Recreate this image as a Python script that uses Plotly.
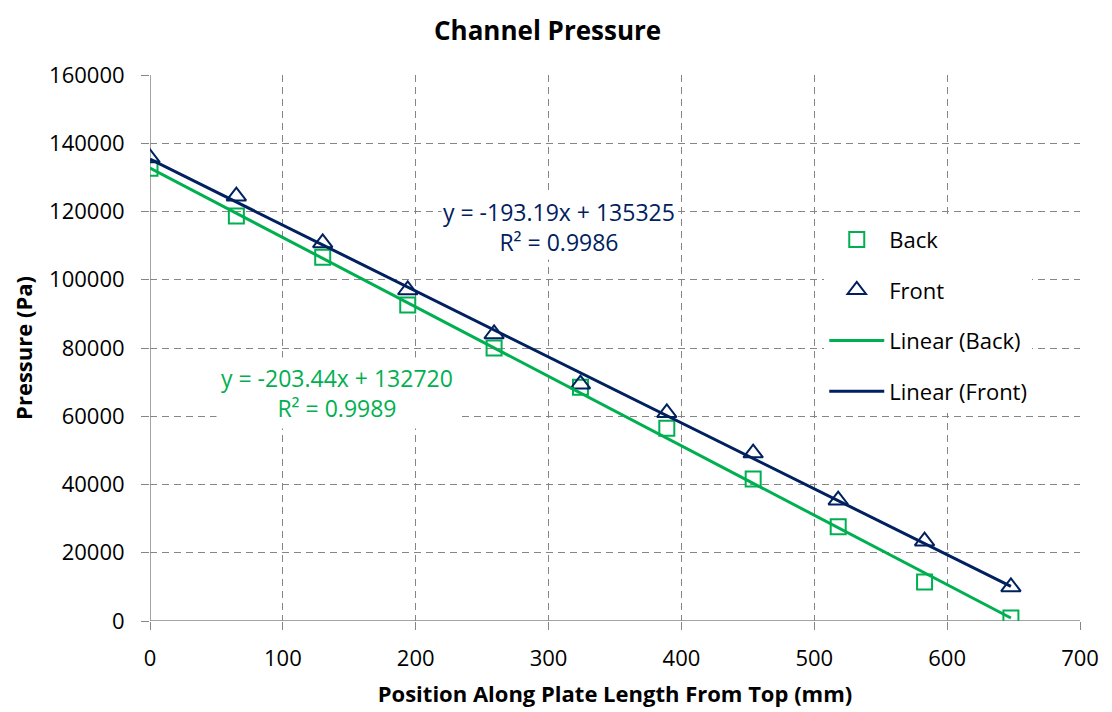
import plotly.graph_objects as go

positions = [0, 65, 130, 194, 259, 324, 389, 454, 518, 583, 648]
back_pressure = [132700, 118700, 106600, 92600, 80000, 68500, 56500, 41600, 27600, 11400, 900]
front_pressure = [135700, 124500, 110800, 97000, 84100, 69400, 61000, 49200, 35400, 23400, 10000]

back_fit = [-203.44, 132720]
front_fit = [-193.19, 135325]
fit_range = [0, 648]

GREEN = "#00B050"
NAVY = "#002060"
GRID = "#868686"
FONT = "'Open Sans', sans-serif"

fig = go.Figure()
fig.add_trace(go.Scatter(x=positions, y=back_pressure, mode="markers", name="Back",
                         legendgroup="a",
                         marker=dict(symbol="square-open", size=15, color=GREEN, line=dict(width=2))))
fig.add_trace(go.Scatter(x=positions, y=front_pressure, mode="markers", name="Front",
                         legendgroup="b",
                         marker=dict(symbol="triangle-up-open", size=17, color=NAVY, line=dict(width=2))))
fig.add_trace(go.Scatter(x=fit_range, y=[back_fit[0] * v + back_fit[1] for v in fit_range],
                         mode="lines", name="Linear (Back)", legendgroup="c",
                         line=dict(color=GREEN, width=3)))
fig.add_trace(go.Scatter(x=fit_range, y=[front_fit[0] * v + front_fit[1] for v in fit_range],
                         mode="lines", name="Linear (Front)", legendgroup="d",
                         line=dict(color=NAVY, width=3)))
# invisible helper trace so the overlay axis (cross tick marks) is drawn
fig.add_trace(go.Scatter(x=fit_range, y=[back_fit[1], back_fit[1]], yaxis="y2", mode="lines",
                         line=dict(width=0), opacity=0, showlegend=False, hoverinfo="skip"))

fig.add_annotation(x=308, y=115500, xref="x", yref="y",
                   text="y = -193.19x + 135325<br>R² = 0.9986", showarrow=False,
                   font=dict(size=23, color=NAVY, family=FONT), bgcolor="white", align="center")
fig.add_annotation(x=141, y=66700, xref="x", yref="y",
                   text="y = -203.44x + 132720<br>R² = 0.9989", showarrow=False,
                   font=dict(size=23, color=GREEN, family=FONT), bgcolor="white", align="center",
                   borderpad=4)
# chart title
fig.add_annotation(x=0.427, y=1.0, yshift=64, xref="paper", yref="paper",
                   xanchor="center", yanchor="top", borderpad=0,
                   text="<b>Channel Pressure</b>", showarrow=False,
                   font=dict(size=26, color="black", family=FONT))

axis_common = dict(
    showgrid=True, gridcolor=GRID, griddash="7px,5px", gridwidth=1.4,
    showline=False, zeroline=False,
    ticks="outside", ticklen=8, tickcolor=GRID, tickwidth=1.4,
    tickfont=dict(size=22, color="black", family=FONT),
)

fig.update_layout(
    width=1112, height=712,
    paper_bgcolor="white", plot_bgcolor="white",
    margin=dict(l=142, r=40, t=67, b=99),
    xaxis=dict(range=[0, 700], dtick=100, tick0=0, ticklabelstandoff=10,
               title=dict(text="<b>Position Along Plate Length From Top (mm)</b>",
                          font=dict(size=22, color="black", family=FONT), standoff=15),
               **axis_common),
    yaxis=dict(range=[0, 160000], dtick=20000, tick0=0, tickformat="d", ticklabelstandoff=12,
               title=dict(text="<b>Pressure (Pa)</b>",
                          font=dict(size=22, color="black", family=FONT), standoff=13),
               **axis_common),
    yaxis2=dict(range=[0, 160000], dtick=20000, tick0=0, overlaying="y", side="left",
                anchor="x", showgrid=False, zeroline=False, showline=False,
                showticklabels=False, ticks="inside", ticklen=7, tickcolor=GRID, tickwidth=1.4),
    legend=dict(x=0.725, y=0.737, xanchor="left", yanchor="top",
                bgcolor="white", font=dict(size=22, color="black", family=FONT),
                traceorder="grouped", tracegroupgap=19, itemwidth=55),
    showlegend=True,
)

# solid axis lines at x=0 and y=0
fig.add_shape(type="line", xref="x", yref="paper", x0=0, x1=0, y0=0, y1=1,
              line=dict(color=GRID, width=1.5), layer="below")
fig.add_shape(type="line", xref="paper", yref="y", x0=0, x1=1, y0=0, y1=0,
              line=dict(color=GRID, width=1.5), layer="below")

fig.write_html("out.html")
